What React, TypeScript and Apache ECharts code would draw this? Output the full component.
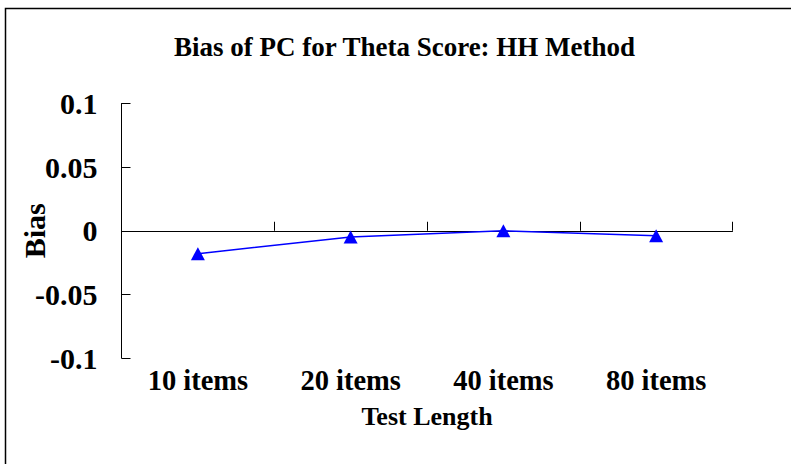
import React, { useEffect, useRef } from "react";
import * as echarts from "echarts";

const categories = ["10 items", "20 items", "40 items", "80 items"];
const biasValues = [-0.018, -0.005, 0.0, -0.004];
const yMin = -0.1;
const yMax = 0.1;
const yStep = 0.05;
const titleText = "Bias of PC for Theta Score: HH Method";
const xName = "Test Length";
const yName = "Bias";

const FONT = "'Liberation Serif', 'Times New Roman', serif";

export default function App() {
  const ref = useRef<HTMLDivElement>(null);
  useEffect(() => {
    if (!ref.current) return;
    const chart = echarts.init(ref.current, undefined, { renderer: "svg" });
    chart.setOption({
      animation: false,
      backgroundColor: "#ffffff",
      title: {
        text: titleText,
        left: 404.5,
        top: 33,
        padding: 0,
        textAlign: "center",
        textStyle: { fontFamily: FONT, fontWeight: "bold", fontSize: 27, color: "#000" },
      },
      graphic: [
        {
          type: "rect",
          shape: { x: 5.5, y: 8.5, width: 800, height: 470 },
          style: { fill: "none", stroke: "#000", lineWidth: 1.5 },
          silent: true,
        },
      ],
      grid: {
        left: 121.5,
        right: 58.5,
        top: 103.5,
        bottom: 106,
        containLabel: false,
        outerBoundsMode: "none",
      },
      xAxis: [
        {
          type: "category",
          data: categories,
          position: "bottom",
          boundaryGap: true,
          axisLine: { show: false, onZero: false },
          axisTick: { show: false },
          axisLabel: {
            margin: 8,
            fontFamily: FONT,
            fontWeight: "bold",
            fontSize: 28.5,
            color: "#000",
          },
          name: xName,
          nameLocation: "middle",
          nameGap: 45,
          nameMoveOverlap: false,
          nameTextStyle: { fontFamily: FONT, fontWeight: "bold", fontSize: 26, color: "#000" },
        },
        {
          type: "category",
          data: categories,
          position: "bottom",
          boundaryGap: true,
          axisLine: { show: true, onZero: true, lineStyle: { color: "#000", width: 1 } },
          axisTick: { show: true, inside: true, length: 9, alignWithLabel: false, lineStyle: { color: "#000", width: 1 } },
          axisLabel: { show: false },
          splitLine: { show: false },
        },
      ],
      yAxis: {
        type: "value",
        min: yMin,
        max: yMax,
        interval: yStep,
        axisLine: { show: true, onZero: false, lineStyle: { color: "#000", width: 1 } },
        axisTick: { show: true, inside: true, length: 9, lineStyle: { color: "#000", width: 1 } },
        splitLine: { show: false },
        axisLabel: {
          margin: 24,
          fontFamily: FONT,
          fontWeight: "bold",
          fontSize: 30,
          color: "#000",
          formatter: (v: number) => String(Number(v.toFixed(2))),
        },
        name: yName,
        nameLocation: "middle",
        nameGap: 72,
        nameRotate: 90,
        nameMoveOverlap: false,
        nameTextStyle: { fontFamily: FONT, fontWeight: "bold", fontSize: 30, color: "#000" },
      },
      series: [
        {
          type: "line",
          xAxisIndex: 0,
          data: biasValues,
          symbol: "triangle",
          symbolSize: [14, 13],
          lineStyle: { color: "#0000ff", width: 1.5 },
          itemStyle: { color: "#0000ff" },
        },
      ],
    });
    return () => chart.dispose();
  }, []);
  return (
    <div
      ref={ref}
      style={{ position: "absolute", left: 0, top: 0, width: 791, height: 464 }}
    />
  );
}
